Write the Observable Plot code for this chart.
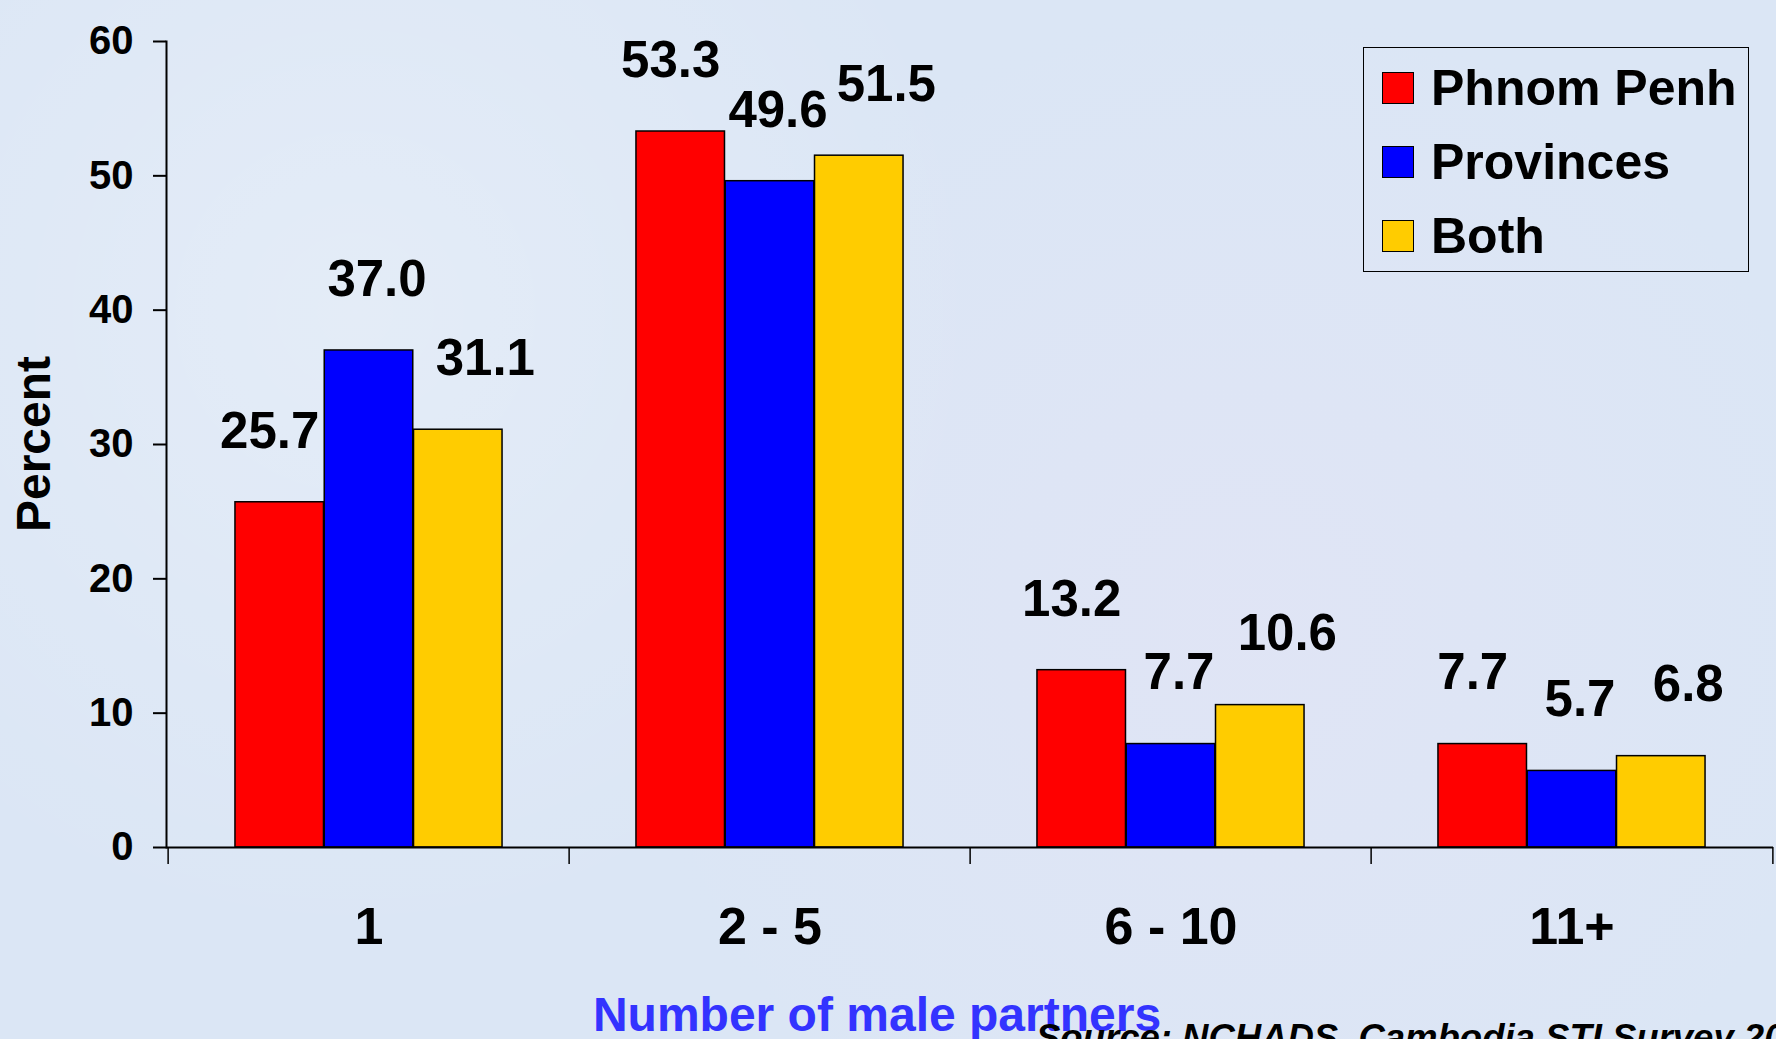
<!DOCTYPE html>
<html><head><meta charset="utf-8">
<script src="https://cdn.jsdelivr.net/npm/d3@7"></script>
<script src="https://cdn.jsdelivr.net/npm/@observablehq/plot@0.6"></script>
<style>
body{margin:0;}
#wrap{position:relative;width:1776px;height:1039px;overflow:hidden;
  background-color:#dbe6f5;
  background-image:radial-gradient(circle at 20% 30%, rgba(255,255,255,0.25) 0, rgba(255,255,255,0) 40%),
                   radial-gradient(circle at 70% 60%, rgba(235,225,245,0.3) 0, rgba(235,225,245,0) 45%);
  font-family:"Liberation Sans",Arial,sans-serif;}
#wrap svg{position:absolute;left:0;top:0;}
.ov{position:absolute;line-height:1;white-space:nowrap;font-weight:bold;}
#legend{position:absolute;left:1363px;top:47px;width:386px;height:225px;border:1.5px solid #000;box-sizing:border-box;}
.lrow{position:absolute;left:18px;height:50px;display:flex;align-items:center;font-size:50px;font-weight:bold;line-height:1;}
.sw{width:30px;height:30px;border:1.5px solid #000;margin-right:17px;flex:none;}
</style></head><body><div id="wrap"></div>
<script>
const categories = ["1", "2 - 5", "6 - 10", "11+"];
const seriesNames = ["Phnom Penh", "Provinces", "Both"];
const phnomPenh = [25.7, 53.3, 13.2, 7.7];
const provinces = [37.0, 49.6, 7.7, 5.7];
const both = [31.1, 51.5, 10.6, 6.8];
const yTicks = [0, 10, 20, 30, 40, 50, 60];
const seriesColors = ["#ff0000", "#0000ff", "#ffcc00"];
const xTitle = "Number of male partners";
const yTitle = "Percent";
const sourceNote = "Source: NCHADS, Cambodia STI Survey 2001";

const seriesValues = [phnomPenh, provinces, both];
const table = [];
seriesNames.forEach((s, j) => categories.forEach((c, i) => table.push({category: c, series: s, value: seriesValues[j][i]})));

const W = 1776, H = 1039, ML = 166, MR = 3, MT = 41, MB = 192;
const bw = (W - ML - MR) / categories.length;
const barW = bw * 2 / 9, lead = bw / 6;
const labelShift = [-10, 8, 27];

const marks = [];
seriesNames.forEach((s, j) => {
  const rows = table.filter(d => d.series === s);
  const il = lead + j * barW, ir = bw - lead - (j + 1) * barW;
  marks.push(Plot.barY(rows, {x: "category", y: "value", fill: seriesColors[j], stroke: "black", strokeWidth: 1.5, insetLeft: il, insetRight: ir}));
  marks.push(Plot.text(rows, {x: "category", y: "value", text: d => d.value.toFixed(1),
    dx: il + barW / 2 - bw / 2 + labelShift[j], dy: -71, fontSize: 51, fontWeight: "bold", fill: "black", lineAnchor: "middle"}));
});
marks.push(
  Plot.axisY({ticks: yTicks, tickSize: 13, tickPadding: 20, fontSize: 40, fontWeight: "bold", strokeWidth: 2, label: null}),
  Plot.frame({anchor: "left", strokeWidth: 2}),
  Plot.ruleY([0], {strokeWidth: 2}),
  Plot.axisX({tickSize: 0, tickPadding: 60, fontSize: 52, fontWeight: "bold", label: null}),
  Plot.axisX({tickSize: 17, tickFormat: () => "", dx: -bw / 2, strokeWidth: 1.5, label: null}),
  Plot.axisX({ticks: [categories[categories.length - 1]], tickSize: 17, tickFormat: () => "", dx: bw / 2, strokeWidth: 1.5, label: null})
);

const chart = Plot.plot({
  width: W, height: H, marginLeft: ML, marginRight: MR, marginTop: MT, marginBottom: MB,
  x: {type: "band", domain: categories, padding: 0},
  y: {domain: [0, 60]},
  style: {background: "transparent", fontFamily: "'Liberation Sans', Arial, sans-serif", color: "black", overflow: "visible"},
  marks
});
const wrap = document.getElementById("wrap");
wrap.appendChild(chart);

const yl = document.createElement("div");
yl.className = "ov"; yl.textContent = yTitle;
yl.style.cssText += "font-size:48px;left:34px;top:444px;transform:translate(-50%,-50%) rotate(-90deg);";
wrap.appendChild(yl);

const xl = document.createElement("div");
xl.className = "ov"; xl.textContent = xTitle;
xl.style.cssText += "font-size:48px;color:#3333ff;left:877px;top:991px;transform:translateX(-50%);";
wrap.appendChild(xl);

const src = document.createElement("div");
src.className = "ov"; src.textContent = sourceNote;
src.style.cssText += "font-size:36.5px;font-style:italic;left:1036px;top:1020px;";
wrap.appendChild(src);

const lg = document.createElement("div");
lg.id = "legend";
seriesNames.forEach((s, j) => {
  const r = document.createElement("div");
  r.className = "lrow";
  r.style.top = (15 + j * 74) + "px";
  const sw = document.createElement("span");
  sw.className = "sw"; sw.style.background = seriesColors[j];
  r.appendChild(sw);
  r.appendChild(document.createTextNode(s));
  lg.appendChild(r);
});
wrap.appendChild(lg);
</script>
</body></html>
